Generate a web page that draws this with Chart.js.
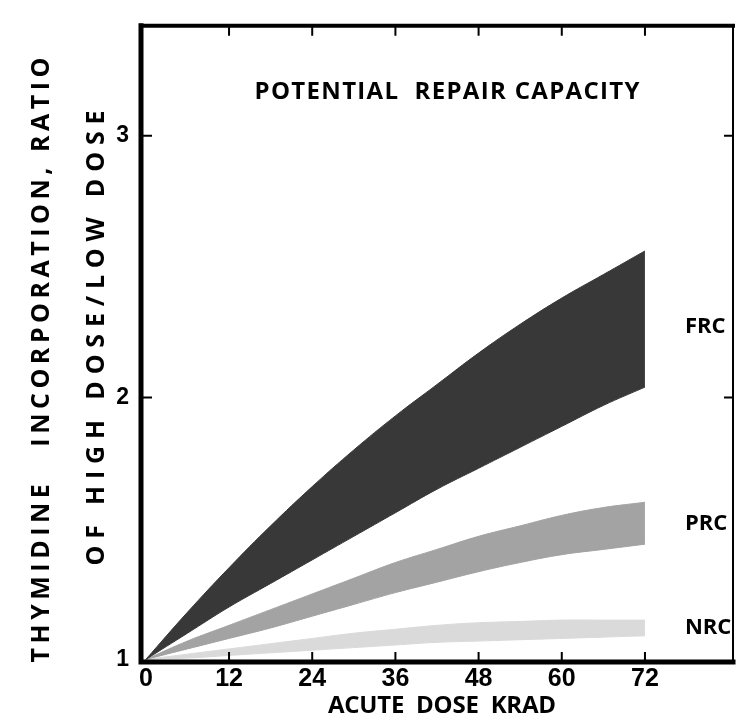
<!DOCTYPE html>
<html>
<head>
<meta charset="utf-8">
<script src="https://cdn.jsdelivr.net/npm/chart.js@4.4.1/dist/chart.umd.min.js"></script>
<style>
  body { margin: 0; background: #fff; }
  #wrap { width: 736px; height: 724px; }
</style>
</head>
<body>
<div id="wrap"><canvas id="repairChart" width="736" height="724"></canvas></div>
<script>
// acute dose (krad) at which each band edge was read
const doses = [0, 6, 12, 18, 24, 30, 36, 42, 48, 54, 60, 66, 72];

// ratio high dose / low dose, upper and lower edges of each band
const frcUpper = [1, 1.18, 1.35, 1.51, 1.66, 1.80, 1.93, 2.05, 2.17, 2.28, 2.38, 2.47, 2.56];
const frcLower = [1, 1.10, 1.20, 1.29, 1.38, 1.47, 1.56, 1.65, 1.73, 1.81, 1.89, 1.97, 2.04];
const prcUpper = [1, 1.07, 1.13, 1.19, 1.25, 1.31, 1.37, 1.42, 1.47, 1.51, 1.55, 1.58, 1.60];
const prcLower = [1, 1.04, 1.08, 1.12, 1.165, 1.21, 1.255, 1.295, 1.335, 1.37, 1.40, 1.42, 1.44];
const nrcUpper = [1, 1.02, 1.04, 1.06, 1.08, 1.10, 1.115, 1.13, 1.14, 1.145, 1.15, 1.15, 1.15];
const nrcLower = [1, 1.005, 1.015, 1.025, 1.035, 1.045, 1.055, 1.065, 1.07, 1.075, 1.08, 1.085, 1.09];

const bandNames = ['FRC', 'PRC', 'NRC'];
const xTicks = [0, 12, 24, 36, 48, 60, 72];
const yTicks = [1, 2, 3];

const chartTitle = 'POTENTIAL  REPAIR CAPACITY';
const xTitle = 'ACUTE  DOSE  KRAD';
const yTitleOuter = 'THYMIDINE   INCORPORATION, RATIO';
const yTitleInner = 'OF HIGH DOSE/LOW DOSE';

const FONT = '"Open Sans", "Liberation Sans", sans-serif';

function pts(arr) {
  return doses.map((d, i) => ({ x: d, y: arr[i] }));
}

function band(label, upper, lower, color) {
  return [
    {
      label: label,
      data: pts(upper),
      borderColor: color,
      borderWidth: 1,
      backgroundColor: color,
      fill: '+1',
      pointRadius: 0,
      tension: 0.4
    },
    {
      label: label + ' lower',
      data: pts(lower),
      borderColor: color,
      borderWidth: 1,
      fill: false,
      pointRadius: 0,
      tension: 0.4
    }
  ];
}

// draw text spread out to a given width
function spaced(ctx, text, cx, cy, width) {
  ctx.letterSpacing = '0px';
  const w = ctx.measureText(text).width;
  const sp = (width - w) / (text.length - 1);
  ctx.letterSpacing = sp + 'px';
  const w2 = ctx.measureText(text).width;
  ctx.textAlign = 'left';
  ctx.textBaseline = 'middle';
  ctx.fillText(text, cx - (w2 - sp) / 2, cy);
  ctx.letterSpacing = '0px';
}

const framePlugin = {
  id: 'frame',
  afterDraw(chart) {
    const ctx = chart.ctx;
    const a = chart.chartArea;
    const xs = chart.scales.x;
    const ys = chart.scales.y;
    ctx.save();
    ctx.strokeStyle = '#000';
    ctx.lineCap = 'square';
    // frame
    ctx.lineWidth = 5;
    ctx.beginPath();
    ctx.moveTo(a.left, a.top); ctx.lineTo(a.left, a.bottom); ctx.lineTo(a.right, a.bottom);
    ctx.stroke();
    ctx.lineWidth = 4;
    ctx.beginPath();
    ctx.moveTo(a.left, a.top); ctx.lineTo(a.right, a.top);
    ctx.stroke();
    ctx.lineWidth = 2;
    ctx.beginPath();
    ctx.moveTo(a.right, a.top); ctx.lineTo(a.right, a.bottom);
    ctx.stroke();
    // inward ticks
    ctx.lineWidth = 2;
    xTicks.slice(1).forEach(v => {
      const px = xs.getPixelForValue(v);
      ctx.beginPath();
      ctx.moveTo(px, a.bottom); ctx.lineTo(px, a.bottom - 9);
      ctx.moveTo(px, a.top); ctx.lineTo(px, a.top + 9);
      ctx.stroke();
    });
    yTicks.slice(1).forEach(v => {
      const py = ys.getPixelForValue(v);
      ctx.beginPath();
      ctx.moveTo(a.left, py); ctx.lineTo(a.left + 10, py);
      ctx.moveTo(a.right, py); ctx.lineTo(a.right - 8, py);
      ctx.stroke();
    });

    ctx.fillStyle = '#000';
    // band names beside the right ends
    ctx.font = 'bold 22px ' + FONT;
    const ends = [
      [frcUpper, frcLower], [prcUpper, prcLower], [nrcUpper, nrcLower]
    ];
    ctx.textAlign = 'left';
    ctx.textBaseline = 'middle';
    bandNames.forEach((name, i) => {
      const last = doses.length - 1;
      const mid = (ends[i][0][last] + ends[i][1][last]) / 2;
      const py = ys.getPixelForValue(mid) + (i === 0 ? 8 : 0);
      ctx.fillText(name, xs.getPixelForValue(doses[last]) + 40, py);
    });

    // titles
    ctx.font = 'bold 24px ' + FONT;
    spaced(ctx, chartTitle, 447, 92, 385);
    ctx.font = 'bold 24px ' + FONT;
    spaced(ctx, xTitle, 442, 706, 228);

    ctx.save();
    ctx.translate(42, 360);
    ctx.rotate(-Math.PI / 2);
    ctx.font = 'bold 25px ' + FONT;
    spaced(ctx, yTitleOuter, 0, 0, 605);
    ctx.restore();

    ctx.save();
    ctx.translate(97, 338);
    ctx.rotate(-Math.PI / 2);
    ctx.font = 'bold 25px ' + FONT;
    spaced(ctx, yTitleInner, 0, 0, 455);
    ctx.restore();

    ctx.restore();
  }
};

const ctx = document.getElementById('repairChart').getContext('2d');
new Chart(ctx, {
  type: 'line',
  data: {
    datasets: [
      ...band('FRC', frcUpper, frcLower, '#383838'),
      ...band('PRC', prcUpper, prcLower, '#a3a3a3'),
      ...band('NRC', nrcUpper, nrcLower, '#dadada')
    ]
  },
  options: {
    responsive: false,
    animation: false,
    layout: { padding: { top: 15, right: 3, left: 0, bottom: 0 } },
    plugins: {
      legend: { display: false },
      tooltip: { enabled: false }
    },
    scales: {
      x: {
        type: 'linear',
        min: -0.7,
        max: 84.7,
        afterBuildTicks: s => { s.ticks = xTicks.map(v => ({ value: v })); },
        afterFit: s => { s.height = 62; },
        grid: { display: false, drawTicks: false },
        border: { display: false },
        ticks: {
          padding: 2,
          color: '#000',
          maxRotation: 0,
          autoSkip: false,
          font: { family: '"Liberation Sans", sans-serif', weight: 'bold', size: 25 }
        }
      },
      y: {
        type: 'linear',
        min: 0.99,
        max: 3.42,
        afterBuildTicks: s => { s.ticks = yTicks.map(v => ({ value: v })); },
        afterFit: s => { s.width = 141; },
        grid: { display: false, drawTicks: false },
        border: { display: false },
        ticks: {
          padding: 12,
          color: '#000',
          autoSkip: false,
          font: { family: '"Liberation Sans", sans-serif', weight: 'bold', size: 23 }
        }
      }
    }
  },
  plugins: [framePlugin]
});
</script>
</body>
</html>
